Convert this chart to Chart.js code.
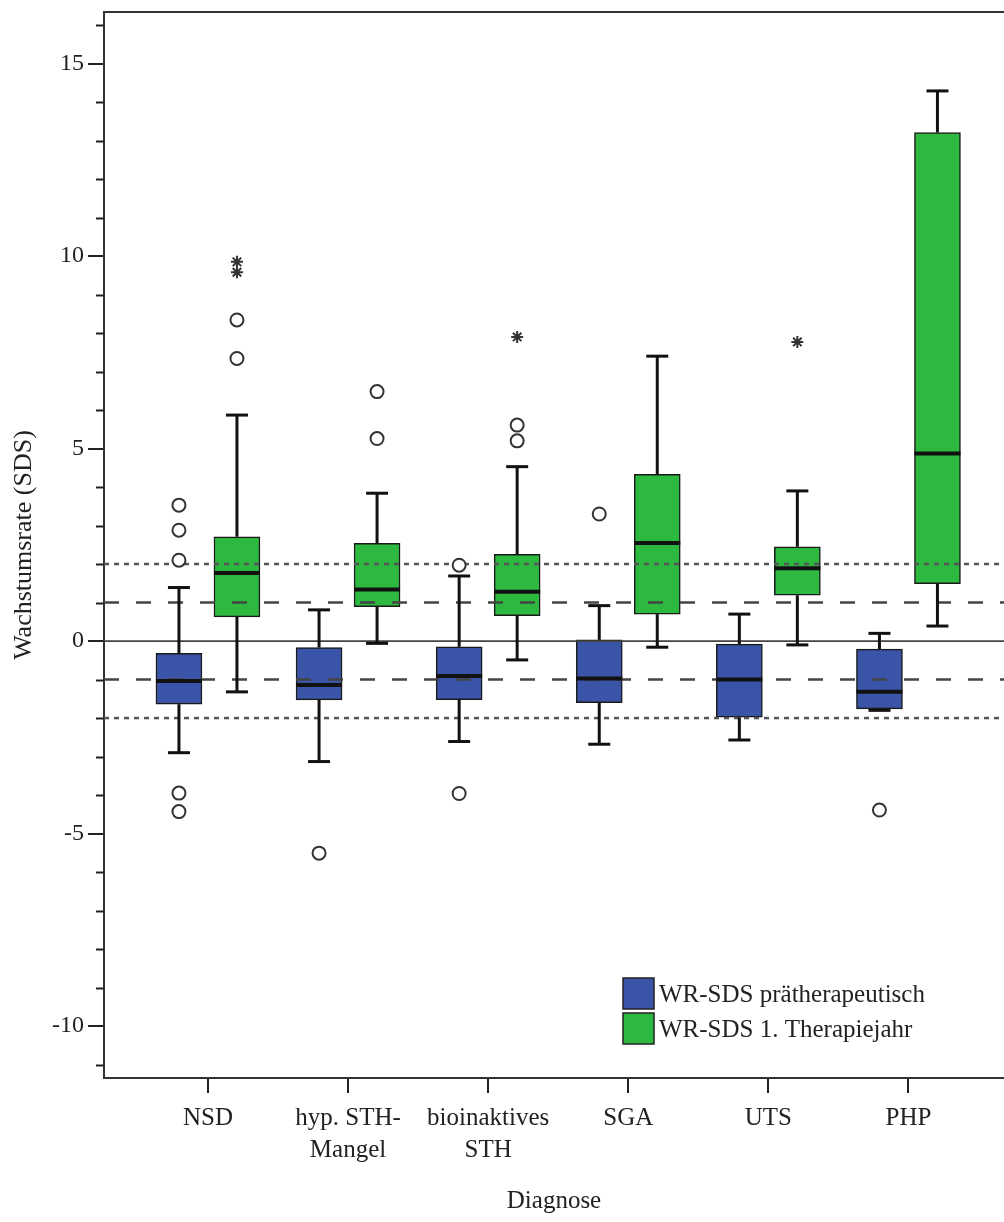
<!DOCTYPE html>
<html>
<head>
<meta charset="utf-8">
<script src="https://cdn.jsdelivr.net/npm/chart.js@4.4.0/dist/chart.umd.min.js"></script>
<style>
  html, body { margin: 0; padding: 0; background: #fff; overflow: hidden; }
  canvas { display: block; }
</style>
</head>
<body>
<canvas id="box" width="1004" height="1222" style="width:1004px;height:1222px"></canvas>
<script>
const diagnoses = [['NSD'], ['hyp. STH-', 'Mangel'], ['bioinaktives', 'STH'], ['SGA'], ['UTS'], ['PHP']];

// WR-SDS prätherapeutisch
const preMin    = [-2.90, -3.13, -2.61, -2.68, -2.57, -1.80];
const preQ1     = [-1.64, -1.53, -1.52, -1.60, -1.98, -1.76];
const preMedian = [-1.04, -1.14, -0.91, -0.97, -1.00, -1.32];
const preQ3     = [-0.32, -0.17, -0.15, 0.03, -0.08, -0.21];
const preMax    = [1.39, 0.81, 1.69, 0.92, 0.70, 0.20];

// WR-SDS 1. Therapiejahr
const yr1Min    = [-1.32, -0.06, -0.49, -0.16, -0.10, 0.39];
const yr1Q1     = [0.63, 0.89, 0.66, 0.70, 1.19, 1.49];
const yr1Median = [1.77, 1.34, 1.28, 2.55, 1.89, 4.87];
const yr1Q3     = [2.71, 2.54, 2.25, 4.33, 2.45, 13.21];
const yr1Max    = [5.87, 3.84, 4.53, 7.40, 3.90, 14.29];

// outliers as [diagnosis index, value]
const preOutliers = [[0, 3.53], [0, 2.88], [0, 2.10], [0, -3.95], [0, -4.43], [1, -5.51], [2, 1.97], [2, -3.96], [3, 3.30], [5, -4.39]];
const yr1Outliers = [[0, 8.34], [0, 7.34], [1, 6.48], [1, 5.26], [2, 5.61], [2, 5.20]];
const yr1Extremes = [[0, 9.85], [0, 9.58], [2, 7.90], [4, 7.77]];

const refSolid = [0];
const refDashed = [1, -1];
const refDotted = [2, -2];
const yTicks = [-10, -5, 0, 5, 10, 15];

const BLUE = '#3a55a8';
const GREEN = '#2db840';
const shift = 0.207;   // half distance between the two boxes of one diagnosis
const serif = "'Liberation Serif', 'Times New Roman', serif";

Chart.defaults.font.family = serif;
Chart.defaults.color = '#222';

const series = [
  { label: 'WR-SDS prätherapeutisch', color: BLUE, off: -shift, min: preMin, q1: preQ1, med: preMedian, q3: preQ3, max: preMax },
  { label: 'WR-SDS 1. Therapiejahr', color: GREEN, off: shift, min: yr1Min, q1: yr1Q1, med: yr1Median, q3: yr1Q3, max: yr1Max }
];

const boxPlugin = {
  id: 'boxWhiskers',
  afterDatasetDraw(chart, args) {
    if (args.index !== 1) return;
    const { ctx, chartArea: ca, scales: { x, y } } = chart;
    ctx.save();
    ctx.beginPath();
    ctx.rect(ca.left, ca.top, ca.right - ca.left, ca.bottom - ca.top);
    ctx.clip();

    const hline = (v, dash, width, color) => {
      const py = y.getPixelForValue(v);
      ctx.beginPath();
      ctx.setLineDash(dash);
      ctx.lineWidth = width;
      ctx.strokeStyle = color;
      ctx.moveTo(ca.left, py);
      ctx.lineTo(ca.right, py);
      ctx.stroke();
    };
    refSolid.forEach(v => hline(v, [], 1.8, '#444'));
    refDashed.forEach(v => hline(v, [15, 17], 2.5, '#444'));
    refDotted.forEach(v => hline(v, [5, 5], 2.5, '#555'));
    ctx.setLineDash([]);

    ctx.strokeStyle = '#111';
    series.forEach(s => {
      s.q1.forEach((q1, i) => {
        const cx = x.getPixelForValue(i + s.off);
        const seg = (x1, y1, x2, y2, w) => {
          ctx.beginPath();
          ctx.lineWidth = w;
          ctx.moveTo(x1, y1);
          ctx.lineTo(x2, y2);
          ctx.stroke();
        };
        const pMin = y.getPixelForValue(s.min[i]);
        const pMax = y.getPixelForValue(s.max[i]);
        seg(cx, y.getPixelForValue(s.q3[i]), cx, pMax, 3);
        seg(cx, y.getPixelForValue(q1), cx, pMin, 3);
        seg(cx - 11, pMax, cx + 11, pMax, 3);
        seg(cx - 11, pMin, cx + 11, pMin, 3);
        const pMed = y.getPixelForValue(s.med[i]);
        seg(cx - 23, pMed, cx + 23, pMed, 4);
      });
    });
    ctx.restore();
  },
  afterDraw(chart) {
    const { ctx, chartArea: ca, scales: { y } } = chart;
    ctx.save();
    // frame top
    ctx.strokeStyle = '#333';
    ctx.lineWidth = 2;
    ctx.beginPath();
    ctx.moveTo(ca.left, ca.top);
    ctx.lineTo(ca.right, ca.top);
    ctx.stroke();
    // minor ticks every unit
    ctx.strokeStyle = '#222';
    for (let v = Math.ceil(y.min); v <= Math.floor(y.max); v++) {
      if (v % 5 === 0) continue;
      const py = Math.round(y.getPixelForValue(v)) + 0.5;
      ctx.beginPath();
      ctx.moveTo(ca.left - 8, py);
      ctx.lineTo(ca.left, py);
      ctx.stroke();
    }
    // legend
    ctx.font = '25px ' + serif;
    ctx.textBaseline = 'middle';
    series.forEach((s, k) => {
      const lx = ca.right - 381;
      const ly = ca.bottom - 100 + k * 35;
      ctx.fillStyle = s.color;
      ctx.fillRect(lx, ly, 31, 31);
      ctx.lineWidth = 1.5;
      ctx.strokeStyle = '#222';
      ctx.strokeRect(lx, ly, 31, 31);
      ctx.fillStyle = '#222';
      ctx.fillText(s.label, lx + 36, ly + 17);
    });
    ctx.restore();
  }
};

const boxSets = series.map((s, k) => ({
  type: 'bar',
  label: s.label,
  data: s.q1.map((q, i) => ({ x: i + s.off, y: [q, s.q3[i]] })),
  backgroundColor: s.color,
  borderColor: '#1a1a1a',
  borderWidth: 1.5,
  borderSkipped: false,
  barThickness: 46,
  grouped: false,
  order: 3 - k
}));

const pointSet = (list, off, style) => ({
  type: 'scatter',
  data: list.map(([i, v]) => ({ x: i + off, y: v })),
  pointStyle: style,
  radius: style === 'star' ? 6 : 6.5,
  borderWidth: 2,
  borderColor: '#333',
  backgroundColor: '#fff',
  order: 1
});

new Chart(document.getElementById('box'), {
  type: 'bar',
  data: {
    datasets: [
      ...boxSets,
      pointSet(preOutliers, -shift, 'circle'),
      pointSet(yr1Outliers, shift, 'circle'),
      pointSet(yr1Extremes, shift, 'star')
    ]
  },
  options: {
    responsive: false,
    animation: false,
    layout: { autoPadding: false, padding: { top: 12, left: 0, right: 0, bottom: 0 } },
    plugins: { legend: { display: false }, tooltip: { enabled: false } },
    scales: {
      x: {
        type: 'linear',
        min: -0.742,
        max: 5.682,
        offset: false,
        afterBuildTicks: s => { s.ticks = diagnoses.map((d, i) => ({ value: i })); },
        afterFit: s => { s.height = 144; s.paddingLeft = 0; s.paddingRight = 0; },
        ticks: {
          callback: v => diagnoses[v],
          autoSkip: false,
          maxRotation: 0,
          padding: 9,
          color: '#222',
          font: { size: 25, lineHeight: 1.3 }
        },
        grid: { offset: false, drawOnChartArea: false, tickLength: 15, color: '#222', lineWidth: 2 },
        border: { display: true, color: '#333', width: 2 },
        title: { display: true, text: 'Diagnose', color: '#222', font: { size: 25 }, padding: { top: 4, bottom: 6 } }
      },
      y: {
        min: -11.35,
        max: 16.34,
        afterBuildTicks: s => { s.ticks = yTicks.map(v => ({ value: v })); },
        afterFit: s => { s.width = 104; s.paddingTop = 0; s.paddingBottom = 0; },
        ticks: { padding: 4, color: '#222', font: { size: 24 } },
        grid: { drawOnChartArea: false, tickLength: 16, color: '#222', lineWidth: 2 },
        border: { display: true, color: '#333', width: 2 },
        title: { display: true, text: 'Wachstumsrate (SDS)', color: '#222', font: { size: 26 }, padding: { top: 9, bottom: 0 } }
      }
    }
  },
  plugins: [boxPlugin]
});
</script>
</body>
</html>
